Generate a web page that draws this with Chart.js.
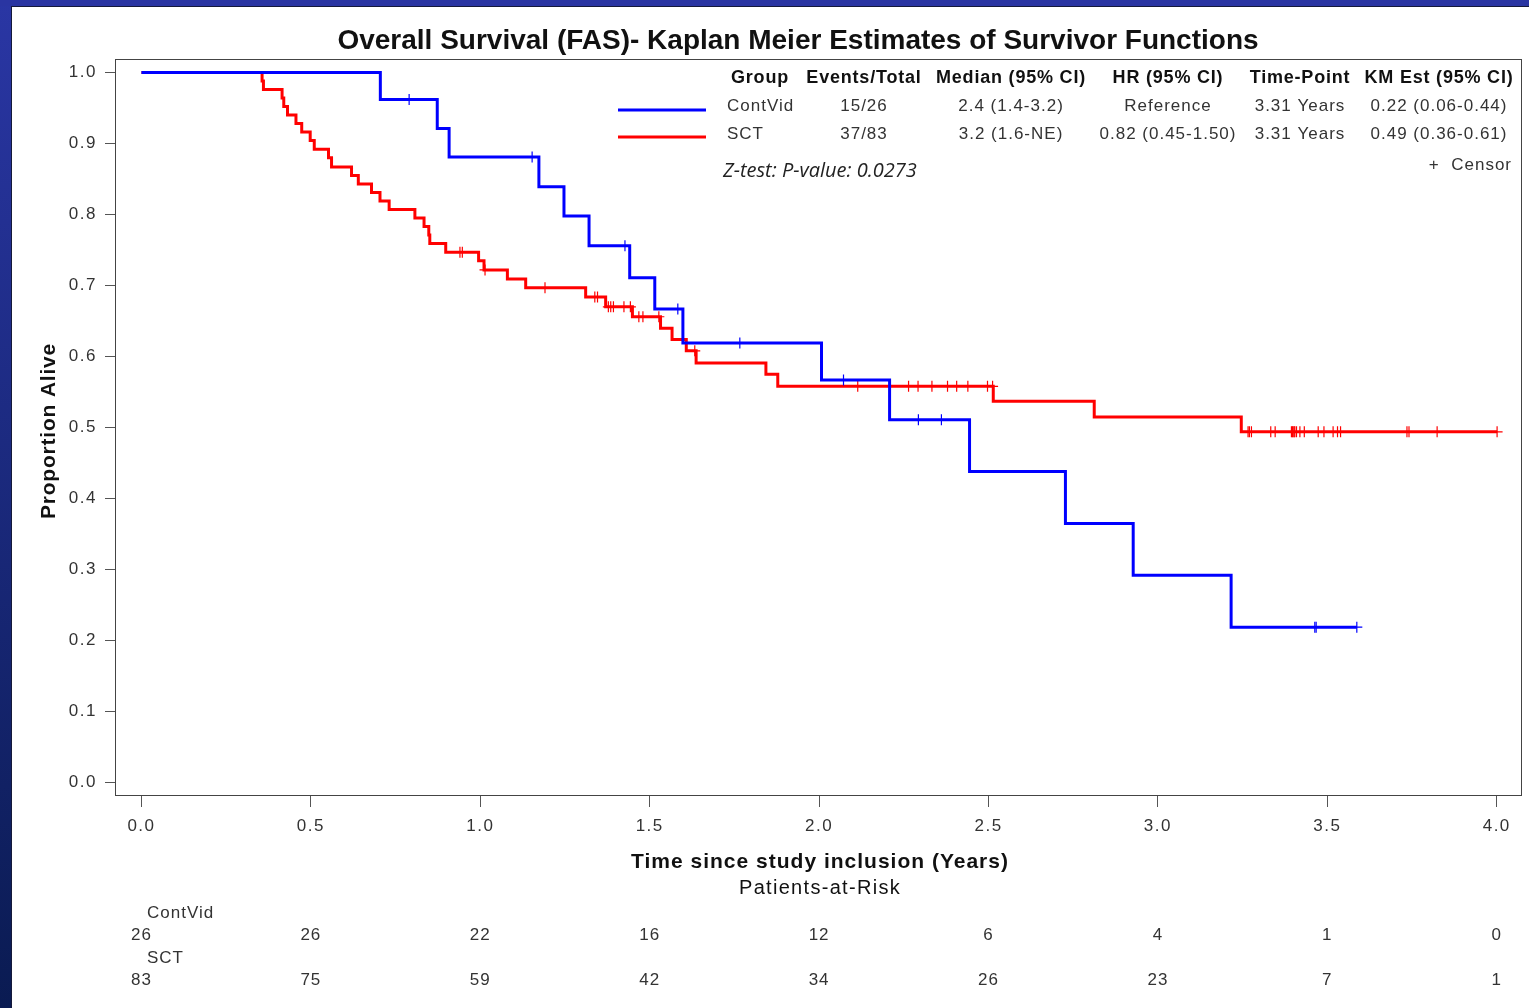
<!DOCTYPE html>
<html>
<head>
<meta charset="utf-8">
<title>Overall Survival (FAS) - Kaplan Meier Estimates</title>
<script src="https://cdn.jsdelivr.net/npm/chart.js@4.4.1/dist/chart.umd.min.js"></script>
<style>
  html, body { margin: 0; padding: 0; background: #fff; overflow: hidden; }
  #wrap { position: relative; width: 1529px; height: 1008px; }
</style>
</head>
<body>
<div id="wrap"><canvas id="km" width="1529" height="1008"></canvas></div>
<script>
// ContVid: time (years) of each step and survival after it
const contVidTimes = [0, 0.705, 0.873, 0.908, 1.173, 1.247, 1.321, 1.441, 1.515, 1.598, 2.007, 2.208, 2.444, 2.727, 2.927, 3.216, 3.587];
const contVidSurv  = [1, 0.962, 0.921, 0.881, 0.839, 0.798, 0.756, 0.711, 0.667, 0.619, 0.567, 0.511, 0.438, 0.365, 0.292, 0.219, 0.219];
const contVidCensorTimes = [0.79, 1.153, 1.427, 1.583, 1.766, 2.072, 2.293, 2.361, 3.463, 3.467, 3.587];
const contVidCensorSurv  = [0.962, 0.881, 0.756, 0.667, 0.619, 0.567, 0.511, 0.511, 0.219, 0.219, 0.219];

// SCT
const sctTimes = [0, 0.356, 0.360, 0.415, 0.420, 0.431, 0.456, 0.473, 0.498, 0.510, 0.552, 0.561, 0.620, 0.640, 0.679,
  0.704, 0.731, 0.807, 0.834, 0.848, 0.851, 0.898, 0.995, 1.011, 1.080, 1.134, 1.311, 1.370, 1.449, 1.532, 1.566,
  1.608, 1.637, 1.843, 1.878, 2.514, 2.812, 3.246, 4.001];
const sctSurv = [1, 0.988, 0.976, 0.964, 0.952, 0.940, 0.928, 0.916, 0.904, 0.892, 0.880, 0.867, 0.855, 0.843, 0.831,
  0.819, 0.807, 0.795, 0.783, 0.771, 0.759, 0.747, 0.735, 0.722, 0.709, 0.697, 0.684, 0.670, 0.656, 0.640, 0.624,
  0.608, 0.591, 0.575, 0.558, 0.537, 0.515, 0.494, 0.494];
const sctCensorTimes = [0.940, 0.947, 1.014, 1.191, 1.338, 1.346, 1.378, 1.385, 1.393, 1.424, 1.443, 1.468, 1.480, 1.527,
  1.633, 2.114, 2.264, 2.292, 2.333, 2.379, 2.406, 2.439, 2.497, 2.512, 3.266, 3.270, 3.276, 3.333, 3.346, 3.394,
  3.397, 3.399, 3.402, 3.404, 3.409, 3.419, 3.432, 3.473, 3.490, 3.517, 3.530, 3.539, 3.735, 3.741, 3.824, 4.001];
const sctCensorSurv = [0.747, 0.747, 0.722, 0.697, 0.684, 0.684, 0.670, 0.670, 0.670, 0.670, 0.670, 0.656, 0.656, 0.656,
  0.608, 0.558, 0.558, 0.558, 0.558, 0.558, 0.558, 0.558, 0.558, 0.558, 0.494, 0.494, 0.494, 0.494, 0.494, 0.494,
  0.494, 0.494, 0.494, 0.494, 0.494, 0.494, 0.494, 0.494, 0.494, 0.494, 0.494, 0.494, 0.494, 0.494, 0.494, 0.494];

const xTicks = [0, 0.5, 1, 1.5, 2, 2.5, 3, 3.5, 4];
const yTicks = [0, 0.1, 0.2, 0.3, 0.4, 0.5, 0.6, 0.7, 0.8, 0.9, 1.0];

// patients at risk at each x tick
const riskContVid = [26, 26, 22, 16, 12, 6, 4, 1, 0];
const riskSCT     = [83, 75, 59, 42, 34, 26, 23, 7, 1];

const tableHeader  = ['Group', 'Events/Total', 'Median (95% CI)', 'HR (95% CI)', 'Time-Point', 'KM Est (95% CI)'];
const tableContVid = ['ContVid', '15/26', '2.4 (1.4-3.2)', 'Reference', '3.31 Years', '0.22 (0.06-0.44)'];
const tableSCT     = ['SCT', '37/83', '3.2 (1.6-NE)', '0.82 (0.45-1.50)', '3.31 Years', '0.49 (0.36-0.61)'];

const BLUE = '#0000ff';
const RED = '#ff0000';
const FONT = '"Liberation Sans", Arial, sans-serif';

const pts = (xs, ys) => xs.map((x, i) => ({ x: x, y: ys[i] }));

function text(ctx, s, x, y, opt) {
  ctx.save();
  ctx.font = opt.font;
  ctx.fillStyle = opt.color || '#222';
  ctx.textAlign = opt.align || 'center';
  ctx.textBaseline = 'middle';
  ctx.letterSpacing = opt.spacing || '0px';
  if (opt.rotate) {
    ctx.translate(x, y);
    ctx.rotate(opt.rotate);
    ctx.fillText(s, 0, 0);
  } else {
    ctx.fillText(s, x, y);
  }
  ctx.restore();
}

const pagePlugin = {
  id: 'page',
  beforeDraw(chart) {
    const ctx = chart.ctx;
    ctx.save();
    const g = ctx.createLinearGradient(0, 0, 0, chart.height);
    g.addColorStop(0, '#2a36a4');
    g.addColorStop(1, '#0a1b52');
    ctx.fillStyle = g;
    ctx.fillRect(0, 0, 11, chart.height);
    ctx.fillStyle = '#2a35a2';
    ctx.fillRect(0, 0, chart.width, 6);
    ctx.fillStyle = '#ffffff';
    ctx.fillRect(11, 6, chart.width - 11, chart.height - 6);
    ctx.fillStyle = '#15193a';
    ctx.fillRect(11, 6, chart.width - 11, 1);
    ctx.fillRect(11, 6, 1, chart.height - 6);
    ctx.restore();
    // tick labels in the source are slightly spaced out
    ctx.letterSpacing = '1.5px';
  },
  beforeDatasetsDraw(chart) {
    const a = chart.chartArea;
    const ctx = chart.ctx;
    ctx.save();
    ctx.strokeStyle = '#444';
    ctx.lineWidth = 1;
    ctx.strokeRect(Math.round(a.left) + 0.5, Math.round(a.top) + 0.5,
      Math.round(a.right - a.left) - 1, Math.round(a.bottom - a.top));
    ctx.restore();
  },
  afterDraw(chart) {
    const ctx = chart.ctx;
    const xs = chart.scales.x;

    text(ctx, 'Overall Survival (FAS)- Kaplan Meier Estimates of Survivor Functions', 798, 41,
      { font: 'bold 28px ' + FONT, color: '#111' });

    text(ctx, 'Proportion Alive', 49, 431, { font: 'bold 21px ' + FONT, color: '#111', spacing: '0.8px', rotate: -Math.PI / 2 });
    text(ctx, 'Time since study inclusion (Years)', 820, 862, { font: 'bold 21px ' + FONT, color: '#111', spacing: '1px' });
    text(ctx, 'Patients-at-Risk', 820, 888, { font: '20px ' + FONT, color: '#111', spacing: '1.3px' });

    // stats table / legend
    const cols = [760, 864, 1011, 1168, 1300, 1439];
    tableHeader.forEach((s, i) => text(ctx, s, cols[i], 78, { font: 'bold 18px ' + FONT, color: '#111', spacing: '0.8px' }));
    [tableContVid, tableSCT].forEach((row, r) => {
      const y = 106 + r * 28;
      row.forEach((s, i) => {
        if (i === 0) text(ctx, s, 727, y, { font: '17px ' + FONT, align: 'left', spacing: '1px', color: '#333' });
        else text(ctx, s, cols[i], y, { font: '17px ' + FONT, spacing: '1px', color: '#333' });
      });
    });
    ctx.save();
    ctx.lineWidth = 3;
    ctx.strokeStyle = BLUE;
    ctx.beginPath(); ctx.moveTo(618, 110); ctx.lineTo(706, 110); ctx.stroke();
    ctx.strokeStyle = RED;
    ctx.beginPath(); ctx.moveTo(618, 137); ctx.lineTo(706, 137); ctx.stroke();
    ctx.restore();

    text(ctx, 'Z-test: P-value: 0.0273', 723, 171, { font: 'italic 20px "Open Sans", ' + FONT, align: 'left', color: '#222' });
    text(ctx, '+  Censor', 1512, 165, { font: '17px ' + FONT, align: 'right', spacing: '1px', color: '#333' });

    // patients at risk
    text(ctx, 'ContVid', 147, 913, { font: '17px ' + FONT, align: 'left', spacing: '1px', color: '#333' });
    text(ctx, 'SCT', 147, 958, { font: '17px ' + FONT, align: 'left', spacing: '1px', color: '#333' });
    xTicks.forEach((t, i) => {
      const px = xs.getPixelForValue(t);
      text(ctx, String(riskContVid[i]), px, 935, { font: '17px ' + FONT, spacing: '1px', color: '#333' });
      text(ctx, String(riskSCT[i]), px, 980, { font: '17px ' + FONT, spacing: '1px', color: '#333' });
    });
  }
};

const curve = (label, data, color) => ({
  label: label,
  data: data,
  borderColor: color,
  borderWidth: 3,
  stepped: 'before',
  pointRadius: 0,
  fill: false,
  borderJoinStyle: 'miter',
  borderCapStyle: 'butt'
});

const censor = (label, data, color) => ({
  label: label,
  data: data,
  showLine: false,
  borderColor: color,
  backgroundColor: color,
  pointStyle: 'cross',
  pointRadius: 5.5,
  pointBorderWidth: 1.2
});

new Chart(document.getElementById('km'), {
  type: 'line',
  data: {
    datasets: [
      curve('ContVid', pts(contVidTimes, contVidSurv), BLUE),
      censor('ContVid censor', pts(contVidCensorTimes, contVidCensorSurv), BLUE),
      curve('SCT', pts(sctTimes, sctSurv), RED),
      censor('SCT censor', pts(sctCensorTimes, sctCensorSurv), RED)
    ]
  },
  options: {
    responsive: false,
    animation: false,
    devicePixelRatio: 1,
    layout: { padding: { left: 0, top: 59, right: 4, bottom: 0 } },
    plugins: { legend: { display: false }, tooltip: { enabled: false }, title: { display: false } },
    scales: {
      x: {
        type: 'linear',
        min: -0.0781,
        max: 4.0754,
        afterBuildTicks: s => { s.ticks = xTicks.map(v => ({ value: v })); },
        afterFit: s => { s.height = 213; },
        border: { display: false },
        grid: { display: true, drawOnChartArea: false, drawTicks: true, tickLength: 12, color: '#555' },
        ticks: {
          autoSkip: false, maxRotation: 0, padding: 9, color: '#333',
          font: { family: FONT, size: 17 },
          callback: v => Number(v).toFixed(1)
        }
      },
      y: {
        type: 'linear',
        min: -0.0173,
        max: 1.0189,
        afterBuildTicks: s => { s.ticks = yTicks.map(v => ({ value: v })); },
        afterFit: s => { s.width = 115; },
        border: { display: false },
        grid: { display: true, drawOnChartArea: false, drawTicks: true, tickLength: 10, color: '#555' },
        ticks: {
          autoSkip: false, padding: 8, color: '#333',
          font: { family: FONT, size: 17 },
          callback: v => Number(v).toFixed(1)
        }
      }
    }
  },
  plugins: [pagePlugin]
});
</script>
</body>
</html>
